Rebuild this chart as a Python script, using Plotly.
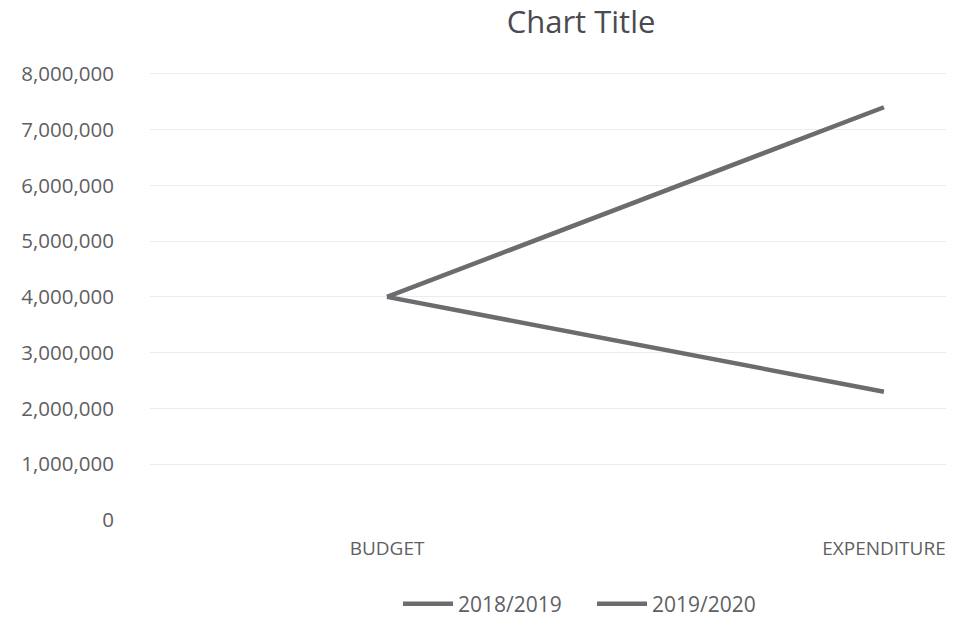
import plotly.graph_objects as go

categories = ["BUDGET", "EXPENDITURE"]
series_names = ["2018/2019", "2019/2020"]
values_2018_2019 = [4000000, 2300000]
values_2019_2020 = [4000000, 7400000]
y_tickvals = [0, 1000000, 2000000, 3000000, 4000000, 5000000, 6000000, 7000000, 8000000, 9000000]
y_ticktext = ["0", "1,000,000", "2,000,000", "3,000,000", "4,000,000", "5,000,000",
              "6,000,000", "7,000,000", "8,000,000", ""]

line_color = "#6c6c70"
font_family = "Open Sans, Liberation Sans, sans-serif"
W, H = 946, 612  # page body has an 8px default margin

fig = go.Figure()
for name, vals in zip(series_names, [values_2018_2019, values_2019_2020]):
    fig.add_trace(go.Scatter(x=categories, y=vals, name=name, mode="lines",
                             line=dict(color=line_color, width=4.5)))

fig.update_layout(
    width=W, height=H,
    paper_bgcolor="white", plot_bgcolor="white",
    margin=dict(l=142, r=0, t=10, b=100),
    font=dict(family=font_family, color="#5f5f63", size=20),
    title=dict(text="Chart Title", x=573 / W, xref="container", xanchor="center",
               y=1 - 14 / H, yref="container", yanchor="middle",
               font=dict(size=31, color="#4a4a50", family=font_family)),
    showlegend=True,
    legend=dict(orientation="h", x=584 / W, xanchor="center", y=(H - 596) / H, yanchor="middle",
                xref="container", yref="container",
                font=dict(size=21, color="#5f5f63"), itemwidth=50,
                entrywidth=129, entrywidthmode="pixels"),
    xaxis=dict(type="category", range=[-0.477, 1.141], showgrid=False, zeroline=False,
               showline=False, ticks="", tickfont=dict(size=19, color="#5f5f63"),
               ticklabelstandoff=15),
    yaxis=dict(range=[0, 9000000], tickvals=y_tickvals, ticktext=y_ticktext,
               showgrid=True, gridcolor="#ececec", gridwidth=1, zeroline=False,
               showline=False, ticks="", tickfont=dict(size=20.5, color="#5f5f63"),
               ticklabelstandoff=35),
)

fig.write_html("out.html")
